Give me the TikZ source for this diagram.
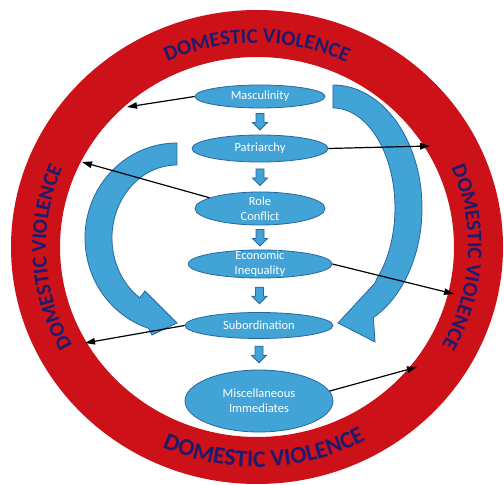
\documentclass[tikz,border=0pt]{standalone}
\usepackage{fontspec}
\setmainfont{Carlito}
\usetikzlibrary{decorations.text,arrows.meta,calc,shapes.geometric}

\definecolor{ringred}{RGB}{204,18,24}
\definecolor{dvnavy}{RGB}{30,26,110}
\definecolor{bubblefill}{RGB}{66,163,214}
\definecolor{bubbleline}{RGB}{38,104,158}

\newcommand\ringfont{\bfseries\fontsize{21}{21}\selectfont\color{dvnavy}}
\newcommand\ringfontbig{\bfseries\fontsize{24}{24}\selectfont\color{dvnavy}}

\tikzset{
  bubble/.style={ellipse, draw=bubbleline, fill=bubblefill, line width=0.8pt,
    inner xsep=0pt, inner ysep=-4pt, text=white, align=center,
    font=\fontsize{12.5}{15}\selectfont},
  feed/.style={draw=bubbleline, fill=bubblefill, line width=0.8pt, line join=miter},
  link/.style={black, line width=1.2pt, -{Triangle[length=10pt,width=6.5pt]}},
  ringtext/.style={decorate, decoration={text along path, text align=center, text={#1}}},
  pics/downarrow/.style={code={
    \path[feed] (-4,8) -- (4,8) -- (4,-1) -- (7.5,-1) -- (0,-8.5) -- (-7.5,-1) -- (-4,-1) -- cycle;}}
}

\begin{document}
\begin{tikzpicture}[x=1pt,y=1pt]
\useasboundingbox (0,0) rectangle (504,485);
\fill[white] (0,0) rectangle (504,485);

% outer red ring
\coordinate (c) at (257,238);
\fill[ringred, even odd rule] (c) ellipse[x radius=246, y radius=237]
                              (c) ellipse[x radius=197, y radius=190];

% lettering around the ring
\path (c) ++(130:212 and 204) coordinate (topstart);
\path (c) ++(228:211 and 203) coordinate (leftstart);
\path (c) ++(43:211 and 203)  coordinate (rightstart);
\path (c) ++(236:228 and 220) coordinate (botstart);
\path[ringtext={|\ringfont|DOMESTIC VIOLENCE}] (topstart)
  arc[start angle=130, end angle=50, x radius=212, y radius=204];
\path[ringtext={|\ringfont|DOMESTIC VIOLENCE}] (leftstart)
  arc[start angle=228, end angle=138, x radius=211, y radius=203];
\path[ringtext={|\ringfont|DOMESTIC VIOLENCE}] (rightstart)
  arc[start angle=43, end angle=-49, x radius=211, y radius=203];
\path[ringtext={|\ringfontbig|DOMESTIC VIOLENCE}] (botstart)
  arc[start angle=236, end angle=308, x radius=228, y radius=220];

% large curved feedback arrows
\path[feed] (177,342) arc[start angle=90, end angle=252, x radius=92, y radius=95]
  -- (152,150) -- (177,162) -- (145,194) -- (139.7,187.2)
  arc[start angle=235, end angle=90, x radius=65, y radius=73] -- cycle;
\path[feed] (333,400) arc[start angle=90, end angle=-63, x radius=89, y radius=123]
  -- (375,143) -- (338,162) -- (375,202) -- (376.8,206.3)
  arc[start angle=-45, end angle=90, x radius=62, y radius=100] -- cycle;

% chain of causes
\node[bubble, minimum width=130, minimum height=23] (masc) at (260,388.5) {Masculinity};
\node[bubble, minimum width=136, minimum height=27] (patr) at (260,336.5) {Patriarchy};
\node[bubble, minimum width=130, minimum height=33] (role) at (260,276.5) {Role\\Conflict};
\node[bubble, minimum width=144, minimum height=28] (econ) at (260,221) {Economic\\Inequality};
\node[bubble, minimum width=148, minimum height=26] (sub)  at (259,159.5) {Subordination};
\node[bubble, minimum width=148, minimum height=62] (misc) at (259,84) {Miscellaneous\\Immediates};

% block arrows between the causes
\pic at ($(masc.south)!0.5!(patr.north)$) {downarrow};
\pic at ($(patr.south)!0.5!(role.north)$) {downarrow};
\pic at ($(role.south)!0.5!(econ.north)$) {downarrow};
\pic at ($(econ.south)!0.5!(sub.north)$) {downarrow};
\pic at ($(sub.south)!0.5!(misc.north)$) {downarrow};

% links out to the ring
\coordinate (t1) at (127,378);
\coordinate (t2) at (430,339);
\coordinate (t3) at (82,323);
\coordinate (t4) at (454,191);
\coordinate (t5) at (85,142);
\coordinate (t6) at (417,118);
\draw[link] (masc.west) -- (t1);
\draw[link] (patr.east) -- (t2);
\draw[link] (role.168) -- (t3);
\draw[link] (econ.east) -- (t4);
\draw[link] (sub.west) -- (t5);
\draw[link] (misc.8) -- (t6);
\end{tikzpicture}
\end{document}
